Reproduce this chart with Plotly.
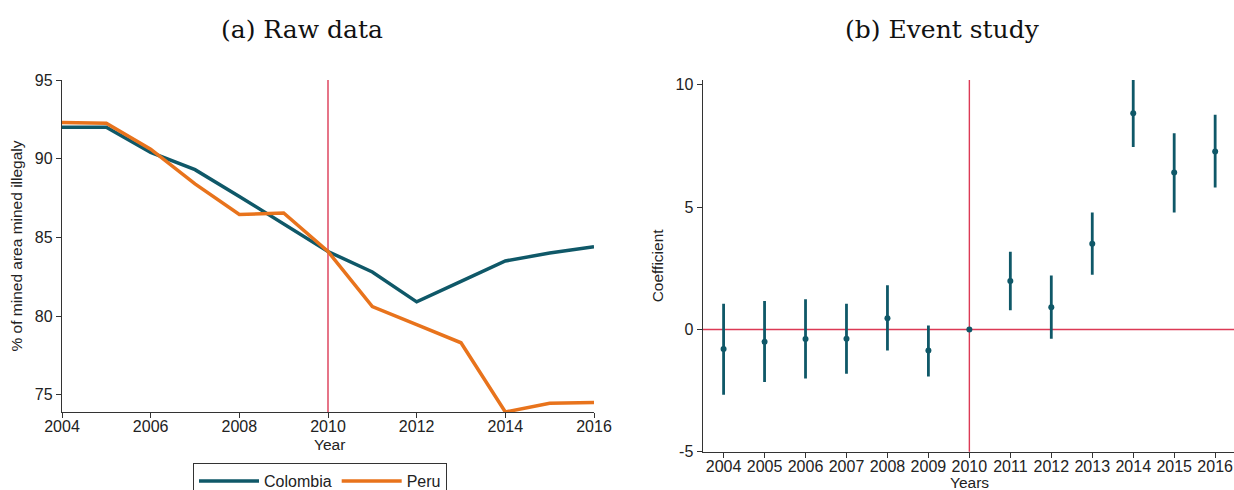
import plotly.graph_objects as go

# ---- Data ----
years = [2004, 2005, 2006, 2007, 2008, 2009, 2010, 2011, 2012, 2013, 2014, 2015, 2016]
colombia = [92.0, 92.0, 90.4, 89.3, 87.6, 85.85, 84.1, 82.8, 80.9, 82.2, 83.5, 84.0, 84.4]
peru = [92.3, 92.25, 90.6, 88.4, 86.45, 86.55, 84.1, 80.6, 79.45, 78.3, 73.9, 74.45, 74.5]

coef = [-0.80, -0.50, -0.39, -0.38, 0.46, -0.86, 0.0, 1.98, 0.91, 3.50, 8.84, 6.42, 7.28]
ci_hi = [1.05, 1.16, 1.23, 1.05, 1.81, 0.16, None, 3.18, 2.21, 4.78, 10.22, 8.02, 8.78]
ci_lo = [-2.67, -2.15, -2.01, -1.81, -0.86, -1.92, None, 0.78, -0.38, 2.24, 7.46, 4.78, 5.80]

left_xticks = [2004, 2006, 2008, 2010, 2012, 2014, 2016]
left_yticks = [75, 80, 85, 90, 95]
right_yticks = [-5, 0, 5, 10]
right_yticklabels = ["-5", "0", "5", "10"]
event_year = 2010

TEAL = "#0f5868"
ORANGE = "#e8731c"
RED = "#dc3a55"
AXIS = "#333333"

W, H = 1234, 490
def px(x):
    return x / W
def py(y):
    return 1 - y / H

err_plus = [(h - c) if h is not None else 0 for h, c in zip(ci_hi, coef)]
err_minus = [(c - l) if l is not None else 0 for l, c in zip(ci_lo, coef)]

fig = go.Figure()

fig.add_trace(go.Scatter(x=years, y=colombia, mode="lines", name="Colombia",
                         line=dict(color=TEAL, width=3.5), xaxis="x", yaxis="y"))
fig.add_trace(go.Scatter(x=years, y=peru, mode="lines", name="Peru",
                         line=dict(color=ORANGE, width=3.5), xaxis="x", yaxis="y"))

fig.add_trace(go.Scatter(x=years, y=coef, mode="markers", showlegend=False,
                         marker=dict(color=TEAL, size=6),
                         error_y=dict(type="data", symmetric=False, array=err_plus,
                                      arrayminus=err_minus, color=TEAL, thickness=2.8, width=0),
                         xaxis="x2", yaxis="y2"))

SANS = "Liberation Sans, Arial, sans-serif"
font_ticks = dict(family=SANS, size=16, color="#222")
font_title = dict(family=SANS, size=15.5, color="#222")

common = dict(showline=True, linecolor=AXIS, linewidth=1.3, ticks="outside", ticklen=5,
              tickcolor=AXIS, showgrid=False, zeroline=False, tickfont=font_ticks,
              automargin=False)

fig.update_layout(
    width=W, height=H,
    margin=dict(l=0, r=0, t=0, b=0, autoexpand=False),
    plot_bgcolor="white", paper_bgcolor="white",
    font=font_ticks,
    xaxis=dict(domain=[px(62), px(594)], range=[2004, 2016], tickvals=left_xticks,
               ticklabelstandoff=-5, anchor="y", **common),
    yaxis=dict(domain=[py(412), py(80)], range=[73.9, 95], tickvals=left_yticks,
               title=dict(text="% of mined area mined illegaly", font=font_title, standoff=8),
               anchor="x", **common),
    xaxis2=dict(domain=[px(702.7), 1.0], range=[2003.49, 2016.46], tickvals=years,
                ticklabelstandoff=-5, anchor="y2", **common),
    yaxis2=dict(domain=[py(451.7), py(80)], range=[-5, 10.2], tickvals=right_yticks,
                ticktext=right_yticklabels,
                title=dict(text="Coefficient", font=font_title, standoff=8), anchor="x2", **common),
    legend=dict(orientation="h", x=px(193), y=py(463), xanchor="left", yanchor="top",
                bordercolor="#333", borderwidth=1, itemwidth=60,
                font=dict(family=SANS, size=16, color="#222")),
    shapes=[
        dict(type="line", xref="x", yref="y domain", x0=event_year, x1=event_year, y0=0, y1=1,
             line=dict(color=RED, width=1.4), layer="below"),
        dict(type="line", xref="x2", yref="y2 domain", x0=event_year, x1=event_year, y0=0, y1=1,
             line=dict(color=RED, width=1.4), layer="below"),
        dict(type="line", xref="x2 domain", yref="y2", x0=0, x1=1, y0=0, y1=0,
             line=dict(color=RED, width=1.4), layer="below"),
    ],
    annotations=[
        dict(text="(a) Raw data", x=px(302), y=py(29), xref="paper", yref="paper",
             showarrow=False, xanchor="center", yanchor="middle",
             font=dict(family="DejaVu Serif, serif", size=25, color="#111")),
        dict(text="(b) Event study", x=px(942), y=py(29), xref="paper", yref="paper",
             showarrow=False, xanchor="center", yanchor="middle",
             font=dict(family="DejaVu Serif, serif", size=25, color="#111")),
        dict(text="Year", x=px(329), y=py(444), xref="paper", yref="paper",
             showarrow=False, xanchor="center", yanchor="middle", font=font_title),
        dict(text="Years", x=px(969.5), y=py(482), xref="paper", yref="paper",
             showarrow=False, xanchor="center", yanchor="middle", font=font_title),
    ],
)

fig.write_html("out.html", config={"displayModeBar": False},
               post_script="document.body.style.margin='0px';document.body.style.overflow='hidden';")
